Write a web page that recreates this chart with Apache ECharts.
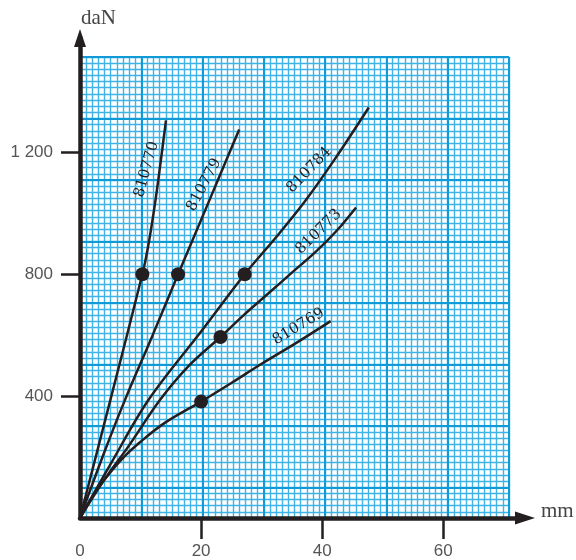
<!DOCTYPE html>
<html><head><meta charset="utf-8">
<script src="https://cdn.jsdelivr.net/npm/echarts@6/dist/echarts.min.js"></script>
<style>html,body{margin:0;padding:0;background:#fff}#c{width:576px;height:560px}</style>
</head><body><div id="c"></div>
<script>
// ---- data ----
const xTicks = [0, 20, 40, 60];
const xTickMarks = [20, 40, 60];
const yTicks = [400, 800, 1200];
const yTickLabels = ['400', '800', '1 200'];
const curveNames = ['810770', '810779', '810784', '810773', '810769'];
const c810770 = [[0,0],[5,386],[10.3,800],[11.2,885],[12.3,1020],[13.3,1165],[14.2,1305]];
const c810779 = [[0,0],[4,215],[7.4,386],[12,600],[16.2,800],[21,1025],[26.3,1275]];
const c810784 = [[0,0],[5,175],[11.3,387],[20,612],[27.2,800],[32,912],[37,1035],[42,1175],[47.7,1347]];
const c810773 = [[0,0],[4,125],[8,235],[13.2,387],[18,500],[23.2,594],[27,665],[31,735],[35,805],[39,875],[42.5,945],[45.6,1019]];
const c810769 = [[0,0],[2,68],[4,125],[7,195],[10,250],[14,312],[20,382],[25,443],[30,506],[36,578],[41.4,646]];
const dots = [[10.3,800],[16.2,800],[27.2,800],[23.2,594],[20,382]];

// ---- layout ----
const curves = [c810770, c810779, c810784, c810773, c810769];
const labelPlacement = [
  {at:[11.0,1144], angle:74.6},
  {at:[20.5,1093], angle:62},
  {at:[37.85,1142], angle:46},
  {at:[39.4,939], angle:44},
  {at:[36.1,628], angle:31}
];
const ink = '#231f20';
const paperMinor = '#3fb3e6';
const paperMajor = '#109bd8';

const chart = echarts.init(document.getElementById('c'));
const hiddenBits = {axisLine:{show:false}, axisTick:{show:false}, axisLabel:{show:false}};
chart.setOption({
  animation: false,
  backgroundColor: '#fff',
  grid: [
    {left:80, top:38, right:51, bottom:42},
    {left:80, top:57, right:67, bottom:42}
  ],
  xAxis: [
    {gridIndex:0, type:'value', min:0, max:73.5, z:3,
     axisLine:{show:true, symbol:['none','triangle'], symbolSize:[13,20], lineStyle:{color:ink, width:4.5}},
     axisTick:{show:true, customValues:xTickMarks, length:21, lineStyle:{color:ink, width:2.5}},
     axisLabel:{customValues:xTicks, margin:25, color:'#555', fontFamily:'Liberation Sans', fontSize:17},
     splitLine:{show:false}},
    Object.assign({gridIndex:1, type:'value', min:0, max:70, interval:1, z:0,
     splitLine:{show:true, lineStyle:{color:paperMinor, width:1.4}}}, hiddenBits),
    Object.assign({gridIndex:1, type:'value', min:0, max:70, interval:10, z:1,
     splitLine:{show:true, lineStyle:{color:paperMajor, width:2}}}, hiddenBits)
  ],
  yAxis: [
    {gridIndex:0, type:'value', min:0, max:1575, z:3,
     axisLine:{show:true, symbol:['none','triangle'], symbolSize:[12,18], lineStyle:{color:ink, width:4.5}},
     axisTick:{show:true, customValues:yTicks, length:19, lineStyle:{color:ink, width:2.5}},
     axisLabel:{customValues:yTicks, margin:27, color:'#555', fontFamily:'Liberation Sans', fontSize:17,
       formatter: v => yTickLabels[yTicks.indexOf(v)] || ''},
     splitLine:{show:false}},
    Object.assign({gridIndex:1, type:'value', min:0, max:75, interval:1, inverse:true, z:0,
     splitLine:{show:true, lineStyle:{color:paperMinor, width:1.4}}}, hiddenBits),
    Object.assign({gridIndex:1, type:'value', min:0, max:75, interval:10, inverse:true, z:1,
     splitLine:{show:true, lineStyle:{color:paperMajor, width:2}}}, hiddenBits)
  ],
  series: curves.map((c, i) => ({
    name: curveNames[i], type:'line', xAxisIndex:0, yAxisIndex:0, data:c,
    smooth:0.35, symbol:'none', z:2,
    lineStyle:{color:ink, width:2.5}
  })).concat([{
    type:'scatter', xAxisIndex:0, yAxisIndex:0, data:dots, symbolSize:14, z:3,
    itemStyle:{color:ink, opacity:1}
  }])
});

const graphics = labelPlacement.map((l, i) => {
  const p = chart.convertToPixel({gridIndex:0}, l.at);
  return {type:'text', x:p[0], y:p[1], rotation:l.angle*Math.PI/180, z:10,
    style:{text:curveNames[i], align:'center', verticalAlign:'middle',
      font:'15px "DejaVu Serif"', fill:ink}};
});
graphics.push({type:'text', left:81, top:8, z:10, style:{text:'daN', font:'21px "Liberation Serif"', fill:'#444'}});
graphics.push({type:'text', left:541, top:501, z:10, style:{text:'mm', font:'21px "Liberation Serif"', fill:'#444'}});
chart.setOption({graphic: graphics});
</script>
</body></html>
